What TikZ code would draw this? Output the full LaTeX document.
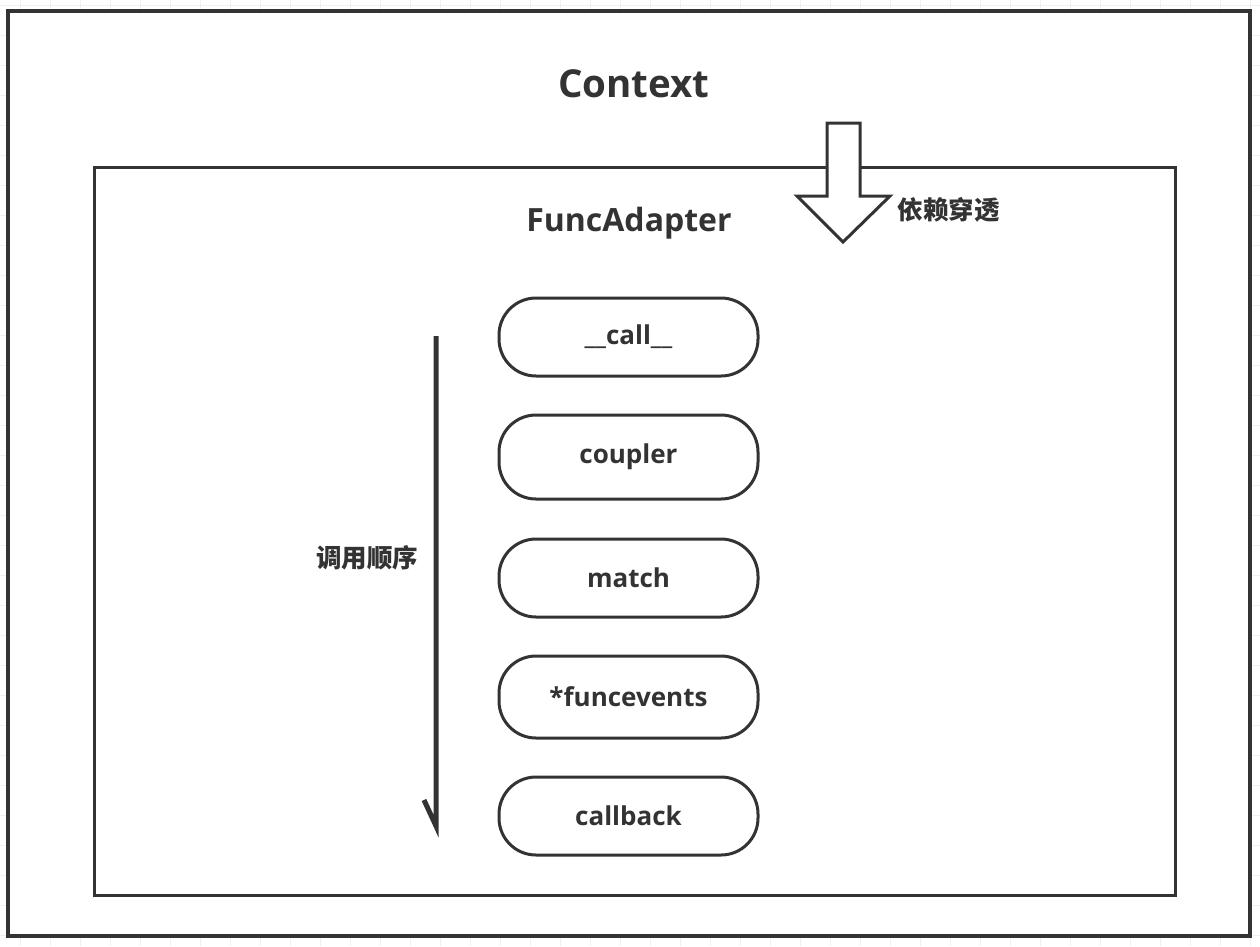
\documentclass[tikz,border=0pt]{standalone}
\usepackage{fontspec}
\setmainfont{Open Sans}
\newfontfamily\cjk{Noto Sans CJK SC}
\definecolor{ink}{HTML}{333333}
\definecolor{gridc}{HTML}{F0F0F0}
\begin{document}
\begin{tikzpicture}[x=1pt,y=-1pt,
  every node/.style={text=ink,font=\bfseries},
  pill/.style={draw=ink,line width=3pt,rounded corners=37pt,minimum width=259pt,minimum height=78pt,inner sep=0pt,font=\fontsize{26}{30}\selectfont\bfseries},
  frame/.style={draw=ink},
  cjklabel/.style={font=\cjk\fontsize{25.5}{30}\selectfont\bfseries}]
\useasboundingbox (0,0) rectangle (1260,946);
% faint grid
\foreach \x in {20,50,...,1250} \draw[gridc,line width=1pt] (\x,0) -- (\x,946);
\foreach \y in {5,35,...,946} \draw[gridc,line width=1pt] (0,\y) -- (1260,\y);
% outer frame
\draw[frame,fill=white,line width=4pt] (8,11) rectangle (1250,936);
\node[font=\fontsize{38.5}{44}\selectfont\bfseries] (ctx) at (634,84) {Context};
% inner frame
\draw[frame,line width=3pt] (94,167) rectangle (1175,895);
\node[font=\fontsize{32}{38}\selectfont\bfseries] (fa) at (629,223) {FuncAdapter};
% block arrow
\draw[draw=ink,fill=white,line width=3pt,line join=miter] (827,123) -- (860,123) -- (860,196) -- (890,196) -- (843,242) -- (797,196) -- (827,196) -- cycle;
\node[cjklabel,anchor=west] (dep) at (894,210) {依赖穿透};
% pills
\node[pill] (call) at (628.5,337) {\_\_call\_\_};
\node[pill,minimum height=84pt] (coupler) at (628.5,457) {coupler};
\node[pill] (match) at (628.5,578) {match};
\node[pill,minimum height=82pt] (funcev) at (628.5,697) {*funcevents};
\node[pill] (cb) at (628.5,816) {callback};
% call order arrow
\coordinate (seqtop) at (436,336);
\coordinate (seqbot) at (436,826);
\draw[ink,line width=5pt] (seqtop) -- (seqbot) -- ++(-12,-26);
\node[cjklabel,anchor=east] (order) at (422,558) {调用顺序};
\end{tikzpicture}
\end{document}
